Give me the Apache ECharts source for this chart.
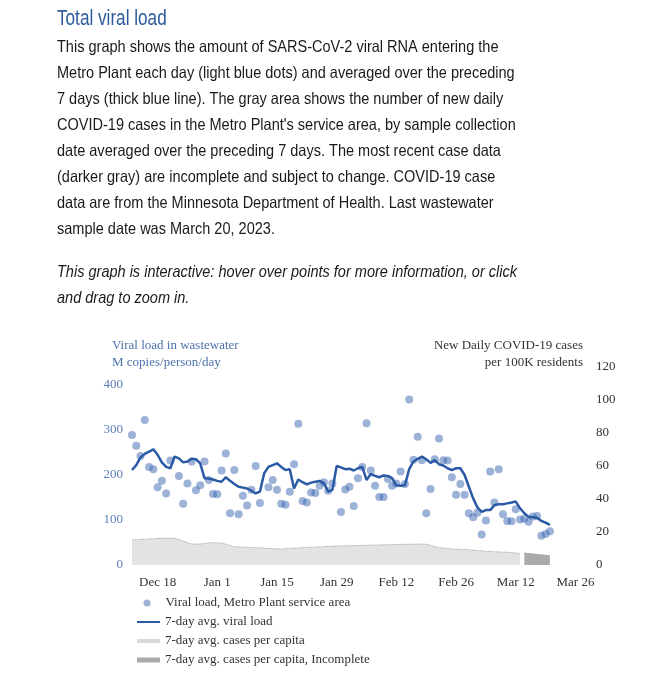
<!DOCTYPE html>
<html><head><meta charset="utf-8">
<script src="https://cdn.jsdelivr.net/npm/echarts@6/dist/echarts.min.js"></script>
<style>html,body{margin:0;padding:0;background:#fff;}#c{width:647px;height:680px;}</style>
</head><body><div id="c"></div>
<script>
// ---- data ----
const startDate = '2022-12-12';
// daily viral load (M copies/person/day), one entry per day from startDate, null = no sample
const viralLoad = [289,265,242,322,218,213,173,187,159,232,null,198,136,181,230,166,177,230,189,158,
  157,210,248,115,211,113,154,132,167,220,138,null,173,189,167,136,134,163,224,314,
  142,139,161,160,176,184,165,181,null,118,168,174,131,193,218,315,210,176,151,151,
  191,176,181,208,180,368,234,285,233,115,169,235,281,233,232,195,156,180,156,115,
  106,116,68,99,208,139,213,113,98,97,124,101,103,96,108,109,65,69,75];
// 7-day average viral load, one entry per day from startDate
const avg7 = [211,222,239,247,252,257,245,228,218,215,241,237,228,230,236,235,226,193,192,190,
  187,185,195,187,180,174,172,170,165,159,163,204,218,222,226,218,211,213,170,190,
  184,179,183,185,187,182,163,167,220,217,213,214,210,215,218,189,202,198,195,199,
  198,193,177,176,177,213,230,236,241,235,227,233,224,221,215,211,215,215,200,174,
  148,128,118,122,122,133,135,135,137,139,141,126,115,107,106,105,98,94,89];
// 7-day avg new daily cases per 100K residents
const caseDates = ['2022-12-12','2022-12-16','2022-12-19','2022-12-22','2022-12-26','2022-12-28','2022-12-30',
  '2023-01-02','2023-01-05','2023-01-10','2023-01-16','2023-01-21','2023-01-29','2023-02-10','2023-02-17',
  '2023-02-19','2023-02-22','2023-02-25','2023-03-01','2023-03-05','2023-03-10','2023-03-13'];
const caseValues = [15.2,15.8,16.2,16.2,12.7,12.7,13.5,13.4,11.1,10.5,9.7,10.5,11.5,12.3,12.7,12.6,10.5,9.7,9.3,8.3,7.7,7.0];
const incompleteDates = ['2023-03-14','2023-03-17','2023-03-20'];
const incompleteValues = [7.2,6.4,5.6];
const xTickDates = ['2022-12-18','2023-01-01','2023-01-15','2023-01-29','2023-02-12','2023-02-26','2023-03-12','2023-03-26'];
const xTickLabels = ['Dec 18','Jan 1','Jan 15','Jan 29','Feb 12','Feb 26','Mar 12','Mar 26'];
const xEndDate = '2023-03-28';
const leftTicks = [0,100,200,300,400];
const rightTicks = [0,20,40,60,80,100,120];

const seriesNames = ['Viral load, Metro Plant service area','7-day avg. viral load','7-day avg. cases per capita','7-day avg. cases per capita, Incomplete'];

const titleText = 'Total viral load';
const bodyLines = [
  'This graph shows the amount of SARS-CoV-2 viral RNA entering the',
  'Metro Plant each day (light blue dots) and averaged over the preceding',
  '7 days (thick blue line). The gray area shows the number of new daily',
  "COVID-19 cases in the Metro Plant's service area, by sample collection",
  'date averaged over the preceding 7 days. The most recent case data',
  '(darker gray) are incomplete and subject to change. COVID-19 case',
  'data are from the Minnesota Department of Health. Last wastewater',
  'sample date was March 20, 2023.'
];
const italicLines = [
  'This graph is interactive: hover over points for more information, or click',
  'and drag to zoom in.'
];
const leftAxisTitle = ['Viral load in wastewater','M copies/person/day'];
const rightAxisTitle = ['New Daily COVID-19 cases','per 100K residents'];

// ---- helpers ----
const DAY = 86400000;
function dayIndex(d){ return Math.round((Date.parse(d+'T00:00:00Z') - Date.parse(startDate+'T00:00:00Z'))/DAY); }
const xTickDays = xTickDates.map(dayIndex);
const SERIF = '"Liberation Serif","Times New Roman",serif';
const SANS = '"Liberation Sans",Arial,sans-serif';

const scatterData = [];
viralLoad.forEach((v,i)=>{ if(v!=null) scatterData.push([i,v]); });
const avgData = avg7.map((v,i)=>[i,v]);
const caseData = caseDates.map((d,i)=>[dayIndex(d), caseValues[i]]);
const incData = incompleteDates.map((d,i)=>[dayIndex(d), incompleteValues[i]]);

const graphics = [];
graphics.push({type:'text', x:57, y:19, scaleX:0.78, style:{text:titleText, fontSize:22, fontFamily:SANS, fill:'#2d5b9e', verticalAlign:'middle'}});
bodyLines.forEach((t,i)=>{
  graphics.push({type:'text', x:57, y:47.5+i*25.95, scaleX:0.88, style:{text:t, fontSize:16.5, fontFamily:SANS, fill:'#1a1a1a', verticalAlign:'middle'}});
});
italicLines.forEach((t,i)=>{
  graphics.push({type:'text', x:57, y:272.5+i*25.8, scaleX:0.88, style:{text:t, fontSize:16.5, fontStyle:'italic', fontFamily:SANS, fill:'#1a1a1a', verticalAlign:'middle'}});
});
leftAxisTitle.forEach((t,i)=>{
  graphics.push({type:'text', x:112, y:346+i*17, style:{text:t, fontSize:13, fontFamily:SERIF, fill:'#4d73ab', verticalAlign:'middle'}});
});
rightAxisTitle.forEach((t,i)=>{
  graphics.push({type:'text', x:583, y:346+i*17, style:{text:t, fontSize:13, fontFamily:SERIF, fill:'#333', align:'right', verticalAlign:'middle'}});
});

const legendBase = {orient:'vertical', itemWidth:23, padding:0, itemGap:0, selectedMode:false,
  itemStyle:{borderWidth:0}, textStyle:{fontFamily:SERIF, fontSize:13, color:'#333', lineHeight:16}};
const legendCenters = [603, 622, 641, 660];
const legendLefts = [143.5, 137, 137, 137];
const legendIcons = [['circle',7],['rect',2],['rect',4],['rect',5]];
const legends = seriesNames.map((n,i)=>Object.assign({}, legendBase, {
  data:[{name:n, icon:legendIcons[i][0]}], itemHeight:legendIcons[i][1], top:legendCenters[i]-8, left:legendLefts[i]
}));
legends[0].textStyle = Object.assign({}, legendBase.textStyle, {padding:[0,0,0,2]});

const chart = echarts.init(document.getElementById('c'), null, {renderer:'canvas'});
chart.setOption({
  animation:false,
  backgroundColor:'#fff',
  graphic: graphics,
  legend: legends,
  grid:{left:132, right:63, top:367, bottom:115, outerBoundsMode:'none'},
  xAxis:{type:'value', min:0, max:dayIndex(xEndDate),
    axisLine:{show:false}, axisTick:{show:false}, splitLine:{show:false},
    axisLabel:{customValues:xTickDays, formatter:v=>{const k=xTickDays.indexOf(v); return k<0?'':xTickLabels[k];},
      fontFamily:SERIF, fontSize:13, color:'#333', margin:11}},
  yAxis:[
    {type:'value', min:0, max:440, position:'left',
      axisLine:{show:false}, axisTick:{show:false}, splitLine:{show:false},
      axisLabel:{customValues:leftTicks, fontFamily:SERIF, fontSize:13, color:'#5b7fb6', margin:9}},
    {type:'value', min:0, max:120, interval:20, position:'right',
      axisLine:{show:false}, axisTick:{show:false}, splitLine:{show:false},
      axisLabel:{customValues:rightTicks, fontFamily:SERIF, fontSize:13, color:'#333', margin:12}}
  ],
  series:[
    {name:seriesNames[2], type:'line', yAxisIndex:1, data:caseData, symbol:'none', silent:true,
      itemStyle:{color:'#dadada'}, lineStyle:{color:'#8a8a8a', width:0.8, type:'dotted'},
      areaStyle:{color:'#e3e3e3', opacity:1}, z:1},
    {name:seriesNames[3], type:'line', yAxisIndex:1, data:incData, symbol:'none', silent:true,
      itemStyle:{color:'#a9a9a9'}, lineStyle:{color:'#9a9a9a', width:0.8},
      areaStyle:{color:'#ababab', opacity:1}, z:1},
    {name:seriesNames[0], type:'scatter', yAxisIndex:0, data:scatterData, symbolSize:8,
      itemStyle:{color:'rgba(55,100,175,0.62)'}, z:2},
    {name:seriesNames[1], type:'line', yAxisIndex:0, data:avgData, symbol:'none', showSymbol:false,
      itemStyle:{color:'#2a5aa6'}, lineStyle:{color:'#2a5aa6', width:2.5}, z:3}
  ]
});
</script></body></html>
